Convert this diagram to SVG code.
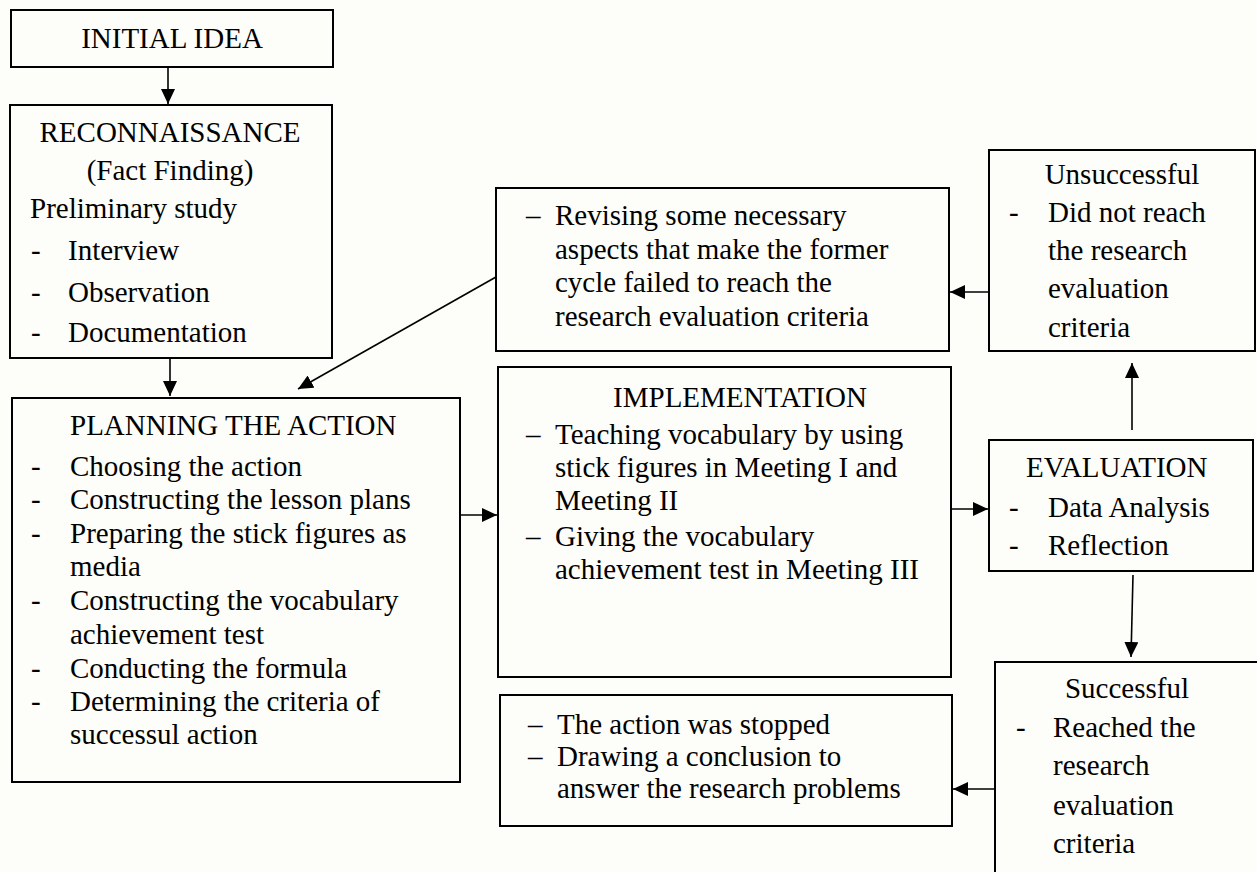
<svg xmlns="http://www.w3.org/2000/svg" width="1257" height="872" viewBox="0 0 1257 872">
<defs>
<style>
.box{fill:none;stroke:#000;stroke-width:2}
.t{font-family:"Liberation Serif","Times New Roman",serif;font-size:29px;fill:#000}
.c{text-anchor:middle}
.ln{fill:none;stroke:#000;stroke-width:1.6}
</style>
<marker id="ah" markerUnits="userSpaceOnUse" markerWidth="15" markerHeight="14" refX="15" refY="7" orient="auto">
<path d="M0,0 L15,7 L0,14 z" fill="#000"/>
</marker>
</defs>
<rect x="0" y="0" width="1257" height="872" fill="#fdfdf9"/>

<g id="connectors">
<line class="ln" x1="168" y1="67" x2="168" y2="104" marker-end="url(#ah)"/>
<line class="ln" x1="170" y1="358" x2="170" y2="396" marker-end="url(#ah)"/>
<line class="ln" x1="496" y1="277" x2="298" y2="389" marker-end="url(#ah)"/>
<line class="ln" x1="460" y1="515" x2="497" y2="515" marker-end="url(#ah)"/>
<line class="ln" x1="951" y1="509" x2="988" y2="509" marker-end="url(#ah)"/>
<line class="ln" x1="989" y1="292" x2="950" y2="292" marker-end="url(#ah)"/>
<line class="ln" x1="1132" y1="430" x2="1132" y2="363" marker-end="url(#ah)"/>
<line class="ln" x1="1133" y1="575" x2="1131" y2="657" marker-end="url(#ah)"/>
<line class="ln" x1="995" y1="789" x2="953" y2="789" marker-end="url(#ah)"/>
</g>

<g id="initial-idea">
<rect class="box" x="11" y="10" width="322" height="57"/>
<text class="t c" x="172" y="48">INITIAL IDEA</text>
</g>

<g id="reconnaissance">
<rect class="box" x="10" y="105" width="322" height="253"/>
<text class="t c" x="170" y="142">RECONNAISSANCE</text>
<text class="t c" x="170" y="180">(Fact Finding)</text>
<text class="t" x="30" y="218">Preliminary study</text>
<text class="t" x="31" y="260">-</text><text class="t" x="68" y="260">Interview</text>
<text class="t" x="31" y="302">-</text><text class="t" x="68" y="302">Observation</text>
<text class="t" x="31" y="342">-</text><text class="t" x="68" y="342">Documentation</text>
</g>

<g id="planning">
<rect class="box" x="12" y="398" width="448" height="384"/>
<text class="t" x="70" y="435">PLANNING THE ACTION</text>
<text class="t" x="31" y="476">-</text><text class="t" x="70" y="476">Choosing the action</text>
<text class="t" x="31" y="509">-</text><text class="t" x="70" y="509">Constructing the lesson plans</text>
<text class="t" x="31" y="543">-</text><text class="t" x="70" y="543">Preparing the stick figures as</text>
<text class="t" x="70" y="576">media</text>
<text class="t" x="31" y="610">-</text><text class="t" x="70" y="610">Constructing the vocabulary</text>
<text class="t" x="70" y="644">achievement test</text>
<text class="t" x="31" y="678">-</text><text class="t" x="70" y="678">Conducting the formula</text>
<text class="t" x="31" y="711">-</text><text class="t" x="70" y="711">Determining the criteria of</text>
<text class="t" x="70" y="744">successul action</text>
</g>

<g id="revising">
<rect class="box" x="496" y="188" width="453" height="163"/>
<text class="t" x="526" y="225">–</text><text class="t" x="555" y="225">Revising some necessary</text>
<text class="t" x="555" y="259">aspects that make the former</text>
<text class="t" x="555" y="292">cycle failed to reach the</text>
<text class="t" x="555" y="326">research evaluation criteria</text>
</g>

<g id="implementation">
<rect class="box" x="498" y="367" width="453" height="310"/>
<text class="t c" x="740" y="407">IMPLEMENTATION</text>
<text class="t" x="526" y="444">–</text><text class="t" x="555" y="444">Teaching vocabulary by using</text>
<text class="t" x="555" y="477">stick figures in Meeting I and</text>
<text class="t" x="555" y="510">Meeting II</text>
<text class="t" x="526" y="546">–</text><text class="t" x="555" y="546">Giving the vocabulary</text>
<text class="t" x="555" y="579">achievement test in Meeting III</text>
</g>

<g id="conclusion">
<rect class="box" x="500" y="695" width="452" height="131"/>
<text class="t" x="528" y="734">–</text><text class="t" x="557" y="734">The action was stopped</text>
<text class="t" x="528" y="766">–</text><text class="t" x="557" y="766">Drawing a conclusion to</text>
<text class="t" x="557" y="798">answer the research problems</text>
</g>

<g id="unsuccessful">
<rect class="box" x="989" y="150" width="266" height="201"/>
<text class="t c" x="1122" y="184">Unsuccessful</text>
<text class="t" x="1009" y="222">-</text><text class="t" x="1048" y="222">Did not reach</text>
<text class="t" x="1048" y="260">the research</text>
<text class="t" x="1048" y="298">evaluation</text>
<text class="t" x="1048" y="337">criteria</text>
</g>

<g id="evaluation">
<rect class="box" x="989" y="440" width="264" height="131"/>
<text class="t" x="1026" y="477">EVALUATION</text>
<text class="t" x="1009" y="517">-</text><text class="t" x="1048" y="517">Data Analysis</text>
<text class="t" x="1009" y="555">-</text><text class="t" x="1048" y="555">Reflection</text>
</g>

<g id="successful">
<rect class="box" x="995" y="662" width="300" height="260"/>
<text class="t c" x="1127" y="698">Successful</text>
<text class="t" x="1016" y="737">-</text><text class="t" x="1053" y="737">Reached the</text>
<text class="t" x="1053" y="775">research</text>
<text class="t" x="1053" y="815">evaluation</text>
<text class="t" x="1053" y="853">criteria</text>
</g>
</svg>
